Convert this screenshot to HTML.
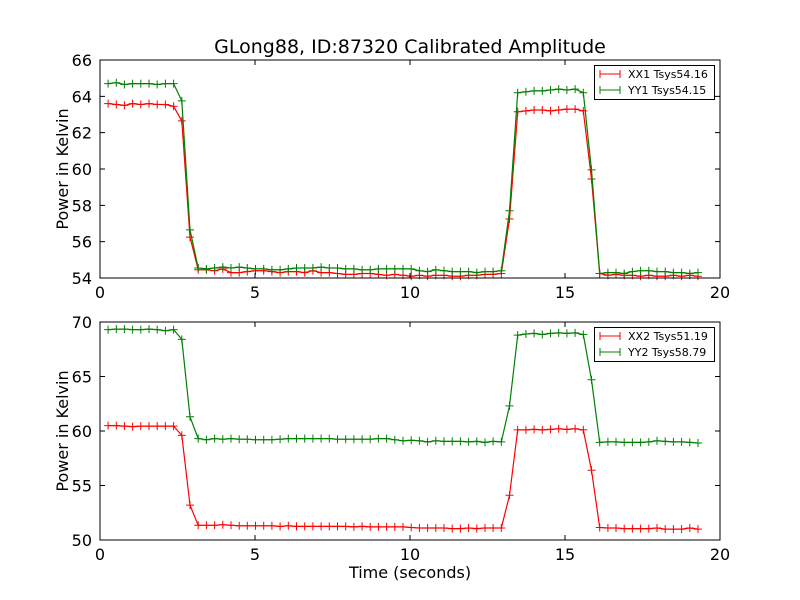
<!DOCTYPE html>
<html><head><meta charset="utf-8"><style>
body{margin:0;background:#fff;}
svg{display:block;font-family:"DejaVu Sans","Liberation Sans",sans-serif;}
</style></head><body>
<svg id="c" width="800" height="600"></svg>
<script>
const xTicks=[0,5,10,15,20];
const topYTicks=[54,56,58,60,62,64,66];
const botYTicks=[50,55,60,65,70];
const t0=0.26, dt=0.2643;
const xx1=[63.6,63.55,63.5,63.6,63.55,63.6,63.55,63.55,63.45,62.65,56.25,
54.45,54.45,54.4,54.5,54.3,54.3,54.35,54.4,54.4,54.35,54.3,54.35,54.35,54.3,54.4,54.3,54.3,54.25,54.2,54.2,54.25,54.25,54.2,54.15,54.2,54.15,54.1,54.15,54.1,54.15,54.15,54.1,54.1,54.15,54.15,54.2,54.2,54.25,
57.25,63.15,63.2,63.25,63.25,63.2,63.25,63.3,63.3,63.2,59.45,
54.25,54.15,54.2,54.15,54.15,54.1,54.15,54.1,54.1,54.15,54.1,54.15,54.1];
const yy1=[64.7,64.75,64.65,64.7,64.7,64.7,64.65,64.7,64.7,63.75,56.65,
54.55,54.5,54.55,54.6,54.55,54.6,54.55,54.5,54.5,54.45,54.45,54.5,54.55,54.55,54.55,54.6,54.55,54.55,54.5,54.5,54.45,54.45,54.5,54.5,54.5,54.5,54.5,54.4,54.35,54.45,54.4,54.35,54.35,54.35,54.3,54.35,54.35,54.4,
57.7,64.2,64.25,64.3,64.3,64.35,64.4,64.35,64.4,64.2,59.95,
54.25,54.3,54.3,54.25,54.35,54.4,54.4,54.35,54.35,54.3,54.3,54.25,54.3];
const xx2=[60.5,60.5,60.45,60.4,60.45,60.45,60.45,60.45,60.45,59.6,53.2,
51.35,51.35,51.35,51.4,51.35,51.3,51.3,51.3,51.3,51.3,51.25,51.3,51.25,51.25,51.25,51.25,51.25,51.25,51.25,51.2,51.25,51.2,51.2,51.2,51.2,51.2,51.15,51.1,51.1,51.1,51.1,51.05,51.05,51.1,51.05,51.1,51.1,51.1,
54.1,60.1,60.1,60.15,60.1,60.15,60.2,60.15,60.2,60.1,56.4,
51.15,51.1,51.1,51.05,51.05,51.05,51.05,51.1,51.0,51.0,51.0,51.1,51.0];
const yy2=[69.3,69.35,69.35,69.3,69.3,69.35,69.3,69.2,69.3,68.4,61.3,
59.3,59.2,59.3,59.25,59.3,59.25,59.25,59.2,59.2,59.2,59.25,59.3,59.3,59.3,59.3,59.3,59.3,59.25,59.25,59.25,59.25,59.25,59.3,59.3,59.2,59.1,59.15,59.1,59.0,59.1,59.05,59.05,59.05,59.0,59.05,58.95,59.05,59.0,
62.3,68.8,68.9,68.95,68.85,68.95,69.0,68.95,69.0,68.85,64.7,
58.95,59.0,59.0,58.95,58.95,58.95,59.0,59.1,59.05,59.0,59.0,58.95,58.9];

const NS="http://www.w3.org/2000/svg";
const svg=document.getElementById('c');
function mk(tag,attrs,parent){const e=document.createElementNS(NS,tag);for(const k in attrs)e.setAttribute(k,attrs[k]);(parent||svg).appendChild(e);return e;}
const X0=100,X1=720;
function sx(v){return X0+(v-0)/20*(X1-X0);}

function panel(name,top,bot,ymin,ymax,yticks,series,labels,colors){
  const g=mk('g',{});
  
  
  const sy=v=>bot-(v-ymin)/(ymax-ymin)*(bot-top);
  for(let s=0;s<series.length;s++){
    const arr=series[s];
    let d='';
    const sg=mk('g',{},g);
    
    
    arr.forEach((v,i)=>{const x=sx(t0+i*dt),y=sy(v);d+=(i?'L':'M')+x.toFixed(1)+' '+y.toFixed(1);});
    mk('path',{d:d,fill:'none',stroke:colors[s],'stroke-width':1.2},sg);
    let m='';
    arr.forEach((v,i)=>{const x=sx(t0+i*dt),y=sy(v);m+=`M${(x-4).toFixed(1)} ${y.toFixed(1)}h8M${x.toFixed(1)} ${(y-4).toFixed(1)}v8`;});
    mk('path',{d:m,fill:'none',stroke:colors[s],'stroke-width':1},sg);
  }
  mk('rect',{x:X0,y:top,width:X1-X0,height:bot-top,fill:'none',stroke:'#000','stroke-width':1},g);
  xTicks.forEach(v=>{const x=sx(v);
    mk('path',{d:`M${x} ${bot}v-5M${x} ${top}v5`,stroke:'#000','stroke-width':1},g);
    const t=mk('text',{x:x,y:bot+20,'font-size':16,'text-anchor':'middle'},g);t.textContent=v;
    
    
  });
  yticks.forEach(v=>{const y=sy(v);
    mk('path',{d:`M${X0} ${y}h5M${X1} ${y}h-5`,stroke:'#000','stroke-width':1},g);
    const t=mk('text',{x:X0-8,y:y+6,'font-size':16,'text-anchor':'end'},g);t.textContent=v;
    
    
  });
  const yl=mk('text',{x:0,y:0,'font-size':16,'text-anchor':'middle',transform:`translate(68 ${(top+bot)/2}) rotate(-90)`},g);
  yl.textContent='Power in Kelvin';
  
  
  const lg=mk('g',{},g);
  
  
  mk('rect',{x:594.5,y:top+5.5,width:120,height:34,fill:'#fff',stroke:'#000','stroke-width':1},lg);
  labels.forEach((l,i)=>{const y=top+14+i*16;
    const e=mk('g',{},lg);
    
    
    mk('path',{d:`M600 ${y}h20M600 ${y-4}v8M620 ${y-4}v8`,stroke:colors[i],'stroke-width':1},e);
    const t=mk('text',{x:628,y:y+4,'font-size':11},e);t.textContent=l;
  });
}
const tt=mk('text',{x:410,y:53,'font-size':19,'text-anchor':'middle'});
tt.textContent='GLong88, ID:87320 Calibrated Amplitude';


panel('top-panel',60,278,54,66,topYTicks,[xx1,yy1],['XX1 Tsys54.16','YY1 Tsys54.15'],['#ff0000','#008000']);
panel('bottom-panel',322,540,50,70,botYTicks,[xx2,yy2],['XX2 Tsys51.19','YY2 Tsys58.79'],['#ff0000','#008000']);
const xl=mk('text',{x:410,y:578,'font-size':16,'text-anchor':'middle'});
xl.textContent='Time (seconds)';


</script>
</body></html>
